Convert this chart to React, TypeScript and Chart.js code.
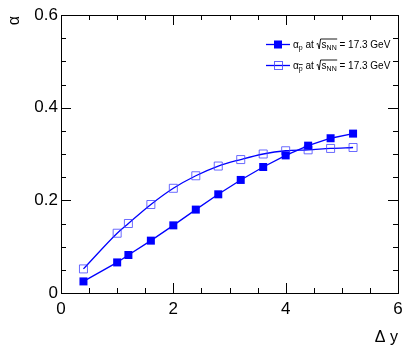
import React, { useEffect, useRef } from "react";
import { Chart, registerables } from "chart.js";

Chart.register(...registerables);

const deltaY = [0.4, 1.0, 1.2, 1.6, 2.0, 2.4, 2.8, 3.2, 3.6, 4.0, 4.4, 4.8, 5.2];
const alphaP = [0.025, 0.066, 0.082, 0.113, 0.146, 0.18, 0.213, 0.244, 0.272, 0.297, 0.318, 0.334, 0.344];
const alphaPbar = [0.052, 0.129, 0.15, 0.191, 0.226, 0.253, 0.274, 0.288, 0.3, 0.307, 0.309, 0.312, 0.314];
const xRange = [0, 6];
const yRange = [0, 0.6];
const legendLabel = "at";
const energyText = " = 17.3 GeV";

const FONT = '"Liberation Sans", Arial, Helvetica, sans-serif';

function drawLegendText(ctx: CanvasRenderingContext2D, x: number, y: number, bar: boolean) {
  const main = `10px ${FONT}`;
  const sub = `7px ${FONT}`;
  ctx.save();
  ctx.fillStyle = "#000";
  ctx.strokeStyle = "#000";
  ctx.textAlign = "left";
  ctx.textBaseline = "alphabetic";
  let cx = x;
  ctx.font = main;
  ctx.fillText("α", cx, y);
  cx += ctx.measureText("α").width;
  ctx.font = sub;
  ctx.fillText("p", cx, y + 2);
  const pw = ctx.measureText("p").width;
  if (bar) {
    ctx.lineWidth = 0.8;
    ctx.beginPath();
    ctx.moveTo(cx, y - 4.5);
    ctx.lineTo(cx + pw, y - 4.5);
    ctx.stroke();
  }
  cx += pw;
  ctx.font = main;
  const at = " " + legendLabel + " ";
  ctx.fillText(at, cx, y);
  cx += ctx.measureText(at).width;
  // sqrt sign
  const sx = cx;
  ctx.font = main;
  const sw = ctx.measureText("s").width;
  ctx.font = sub;
  const nnw = ctx.measureText("NN").width;
  ctx.lineWidth = 0.9;
  ctx.beginPath();
  ctx.moveTo(sx, y - 4);
  ctx.lineTo(sx + 1.2, y - 4.6);
  ctx.lineTo(sx + 2.6, y + 1);
  ctx.lineTo(sx + 4, y - 9);
  ctx.lineTo(sx + 5 + sw + nnw + 0.5, y - 9);
  ctx.stroke();
  cx = sx + 5;
  ctx.font = main;
  ctx.fillText("s", cx, y);
  cx += sw;
  ctx.font = sub;
  ctx.fillText("NN", cx, y + 2);
  cx += nnw;
  ctx.font = main;
  ctx.fillText(energyText, cx, y);
  ctx.restore();
}

const framePlugin = {
  id: "rootFrame",
  afterDatasetsDraw(chart: any) {
    const { ctx, chartArea, scales } = chart;
    const xs = scales.x;
    const ys = scales.y;
    const { left, right, top, bottom } = chartArea;
    ctx.save();
    ctx.strokeStyle = "#000";
    ctx.lineWidth = 1;
    ctx.strokeRect(Math.round(left) + 0.5, Math.round(top) + 0.5, Math.round(right - left), Math.round(bottom - top));
    ctx.beginPath();
    for (let i = 0; i <= 12; i++) {
      const v = i * 0.5;
      const px = Math.round(xs.getPixelForValue(v)) + 0.5;
      const len = i % 4 === 0 ? 10 : 5;
      ctx.moveTo(px, bottom);
      ctx.lineTo(px, bottom - len);
      ctx.moveTo(px, top);
      ctx.lineTo(px, top + len);
    }
    for (let i = 0; i <= 12; i++) {
      const v = i * 0.05;
      const py = Math.round(ys.getPixelForValue(v)) + 0.5;
      const len = i % 4 === 0 ? 10 : 5;
      ctx.moveTo(left, py);
      ctx.lineTo(left + len, py);
      ctx.moveTo(right, py);
      ctx.lineTo(right - len, py);
    }
    ctx.stroke();

    // axis titles
    ctx.fillStyle = "#000";
    ctx.font = `16px ${FONT}`;
    ctx.textAlign = "right";
    ctx.textBaseline = "alphabetic";
    ctx.fillText("Δ y", right, 342);
    ctx.save();
    ctx.translate(19, 16);
    ctx.rotate(-Math.PI / 2);
    ctx.textAlign = "right";
    ctx.fillText("α", 0, 0);
    ctx.restore();

    // legend
    const rows = [
      { y: 44, filled: true },
      { y: 65, filled: false },
    ];
    rows.forEach((r) => {
      ctx.save();
      ctx.strokeStyle = "#0000ff";
      ctx.lineWidth = 1.3;
      ctx.beginPath();
      ctx.moveTo(266, r.y + 0.5);
      ctx.lineTo(290, r.y + 0.5);
      ctx.stroke();
      if (r.filled) {
        ctx.fillStyle = "#0000ff";
        ctx.fillRect(274, r.y - 3.5, 8, 8);
      } else {
        ctx.strokeStyle = "rgba(70,70,255,0.85)";
        ctx.lineWidth = 1;
        ctx.strokeRect(274.5, r.y - 3.5, 8, 8);
      }
      ctx.restore();
      drawLegendText(ctx, 293, r.y + 4, !r.filled);
    });
    ctx.restore();
  },
};

export default function App() {
  const ref = useRef<HTMLCanvasElement | null>(null);
  useEffect(() => {
    if (!ref.current) return;
    const chart = new Chart(ref.current, {
      type: "line",
      data: {
        datasets: [
          {
            label: "alpha pbar",
            data: deltaY.map((x, i) => ({ x, y: alphaPbar[i] })),
            borderColor: "#0000ff",
            borderWidth: 1.3,
            cubicInterpolationMode: "monotone",
            pointStyle: "rect",
            pointRadius: 5.66,
            pointBackgroundColor: "rgba(255,255,255,0)",
            pointBorderColor: "rgba(70,70,255,0.8)",
            pointBorderWidth: 1,
            fill: false,
            order: 2,
          },
          {
            label: "alpha p",
            data: deltaY.map((x, i) => ({ x, y: alphaP[i] })),
            borderColor: "#0000ff",
            borderWidth: 1.3,
            tension: 0,
            pointStyle: "rect",
            pointRadius: 5.66,
            pointBackgroundColor: "#0000ff",
            pointBorderColor: "#0000ff",
            pointBorderWidth: 0,
            fill: false,
            order: 1,
          },
        ],
      } as any,
      options: {
        animation: false,
        responsive: true,
        maintainAspectRatio: false,
        layout: { padding: { left: 0, right: 13, top: 15, bottom: 0 } },
        plugins: { legend: { display: false }, tooltip: { enabled: false } },
        scales: {
          x: {
            type: "linear",
            min: xRange[0],
            max: xRange[1],
            grid: { display: false, drawTicks: false },
            border: { display: false },
            ticks: {
              stepSize: 2,
              padding: 6,
              color: "#000",
              font: { family: FONT, size: 17 },
              maxRotation: 0,
            },
            afterFit: (s: any) => {
              s.height = 55;
            },
          },
          y: {
            type: "linear",
            min: yRange[0],
            max: yRange[1],
            grid: { display: false, drawTicks: false },
            border: { display: false },
            ticks: {
              stepSize: 0.2,
              padding: 3,
              color: "#000",
              font: { family: FONT, size: 17 },
              callback: (v: any) => (v === 0 ? "0" : Number(v).toFixed(1)),
            },
            afterFit: (s: any) => {
              s.width = 61;
            },
          },
        },
      } as any,
      plugins: [framePlugin],
    });
    return () => chart.destroy();
  }, []);
  return (
    <div style={{ position: "absolute", left: 0, top: 0, width: 411, height: 348, background: "#fff" }}>
      <canvas ref={ref} />
    </div>
  );
}
